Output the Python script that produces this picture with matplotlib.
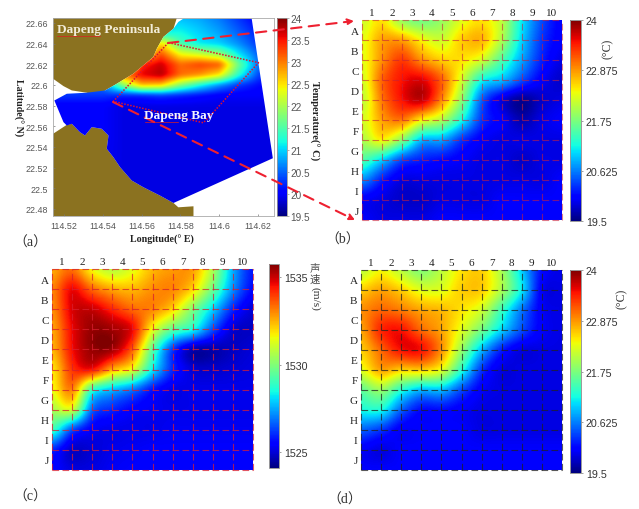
import numpy as np
import matplotlib
matplotlib.use('Agg')
import matplotlib.pyplot as plt
from matplotlib.patches import Polygon

W, H = 639, 510
LAND = '#8b7220'
SERIF = ['Liberation Serif', 'Noto Sans CJK SC']
SANS = 'Liberation Sans'

# panel a: temperature field over the bay
map_lon = [114.51, 114.54, 114.55, 114.56, 114.57, 114.58, 114.59, 114.60, 114.61, 114.62, 114.63]
map_lat = [22.47, 22.55, 22.58, 22.59, 22.60, 22.61, 22.62, 22.63, 22.64, 22.65, 22.665]
map_temp = [
    [20.0, 19.9, 19.9, 19.9, 19.9, 19.9, 19.9, 19.9, 19.9, 19.9, 19.9],
    [20.0, 20.0, 19.9, 19.9, 19.9, 19.9, 19.9, 19.9, 19.9, 19.9, 19.9],
    [20.0, 20.0, 19.9, 19.9, 19.9, 19.9, 19.9, 19.9, 19.9, 19.9, 19.9],
    [20.3, 20.3, 20.2, 20.2, 20.3, 20.2, 20.1, 20.0, 20.0, 20.0, 20.0],
    [20.3, 20.6, 21.8, 22.7, 22.6, 21.8, 21.2, 20.7, 20.3, 20.1, 20.0],
    [20.0, 20.2, 23.0, 23.6, 23.8, 23.1, 22.9, 22.5, 21.3, 20.4, 20.0],
    [20.0, 20.0, 21.0, 23.4, 23.7, 23.1, 23.3, 23.2, 21.7, 20.6, 20.0],
    [20.0, 20.0, 20.0, 22.4, 23.2, 22.4, 22.2, 21.9, 21.1, 20.5, 20.0],
    [20.0, 20.0, 20.0, 21.0, 22.6, 21.5, 21.1, 21.0, 20.7, 20.3, 20.0],
    [20.0, 20.0, 20.0, 20.0, 21.2, 21.2, 21.0, 20.8, 20.5, 20.2, 20.0],
    [20.0, 20.0, 20.0, 20.0, 20.8, 20.9, 20.8, 20.6, 20.3, 20.0, 20.0],
]

# coast outlines
north_land_lon = [114.5143, 114.5781, 114.5764, 114.5712, 114.5678, 114.5660, 114.5557, 114.5463, 114.5411, 114.5394, 114.5317, 114.5240, 114.5197, 114.5143]
north_land_lat = [22.6648, 22.6648, 22.6545, 22.6465, 22.6351, 22.6271, 22.6109, 22.6002, 22.5947, 22.5880, 22.5925, 22.5947, 22.5989, 22.6061]
south_land_lon = [114.5143, 114.5214, 114.5240, 114.5282, 114.5308, 114.5343, 114.5394, 114.5429, 114.5420, 114.5454, 114.5489, 114.5549, 114.5609, 114.5695, 114.5764, 114.5789, 114.5867, 114.5867, 114.5143]
south_land_lat = [22.5527, 22.5614, 22.5624, 22.5543, 22.5511, 22.5592, 22.5576, 22.5511, 22.5382, 22.5301, 22.5204, 22.5075, 22.5010, 22.4929, 22.4858, 22.4816, 22.4826, 22.4732, 22.4732]
sea_lon = [114.5789, 114.5815, 114.6167, 114.6276, 114.5764, 114.5695, 114.5609, 114.5549, 114.5489, 114.5454, 114.5420, 114.5429, 114.5394, 114.5343, 114.5308, 114.5282, 114.5240, 114.5214, 114.5197, 114.5150, 114.5214, 114.5317, 114.5411, 114.5463, 114.5557, 114.5660, 114.5678, 114.5712, 114.5764]
sea_lat = [22.6610, 22.6642, 22.6642, 22.5291, 22.4858, 22.4929, 22.5010, 22.5075, 22.5204, 22.5301, 22.5382, 22.5511, 22.5576, 22.5592, 22.5511, 22.5543, 22.5624, 22.5608, 22.5640, 22.5850, 22.5915, 22.5925, 22.5947, 22.6002, 22.6109, 22.6271, 22.6351, 22.6465, 22.6545]
study_lon = [114.5738, 114.6202, 114.5970, 114.5918, 114.5454]
study_lat = [22.6410, 22.6216, 22.5737, 22.5634, 22.5841]

col_labels = ['1', '2', '3', '4', '5', '6', '7', '8', '9', '10']
row_labels = ['A', 'B', 'C', 'D', 'E', 'F', 'G', 'H', 'I', 'J']

temp_b = [
    [22.2, 22.5, 21.9, 21.7, 21.9, 22.3, 22.5, 22.1, 21.1, 20.4, 20.0],
    [22.3, 22.8, 22.8, 22.4, 22.2, 22.6, 22.7, 22.0, 21.0, 20.3, 20.0],
    [22.3, 22.9, 23.3, 22.9, 22.6, 22.5, 22.2, 21.5, 20.8, 20.2, 19.9],
    [22.2, 23.1, 23.5, 23.6, 23.1, 22.2, 21.2, 20.9, 20.4, 20.0, 19.8],
    [22.1, 23.0, 23.5, 23.7, 22.9, 21.8, 20.5, 19.9, 19.6, 19.8, 19.9],
    [22.2, 22.8, 23.0, 22.4, 22.0, 21.2, 20.3, 20.0, 19.7, 19.9, 20.0],
    [22.0, 22.4, 21.8, 20.9, 20.8, 20.3, 20.0, 19.9, 19.9, 19.9, 19.9],
    [21.5, 21.0, 20.4, 20.2, 20.1, 20.0, 19.9, 19.9, 19.8, 19.9, 19.9],
    [20.7, 20.2, 19.9, 19.9, 19.9, 19.9, 19.9, 19.9, 19.9, 19.9, 20.0],
    [20.0, 19.9, 19.8, 19.8, 19.9, 19.9, 19.9, 20.0, 20.0, 20.0, 20.0],
    [20.0, 19.9, 19.9, 19.9, 20.0, 20.0, 20.0, 20.0, 20.0, 20.0, 20.0],
]
speed_c = [
    [1532.6, 1533.3, 1531.6, 1530.8, 1531.4, 1532.4, 1532.8, 1532.7, 1530.6, 1527.6, 1525.8],
    [1533.0, 1534.6, 1533.4, 1532.6, 1532.4, 1532.9, 1533.0, 1532.0, 1529.7, 1527.2, 1525.6],
    [1532.9, 1534.8, 1535.0, 1534.2, 1533.4, 1533.0, 1532.0, 1530.0, 1528.0, 1526.0, 1525.0],
    [1532.6, 1534.6, 1535.5, 1535.4, 1534.6, 1531.5, 1529.5, 1528.5, 1526.5, 1525.0, 1524.8],
    [1532.4, 1534.5, 1535.5, 1535.4, 1533.5, 1529.5, 1526.3, 1524.7, 1524.6, 1524.8, 1525.0],
    [1531.8, 1534.0, 1534.4, 1532.5, 1531.3, 1528.3, 1526.0, 1525.0, 1524.9, 1525.0, 1525.1],
    [1531.5, 1533.0, 1529.0, 1527.8, 1527.0, 1525.8, 1525.2, 1525.2, 1525.2, 1525.2, 1525.2],
    [1530.5, 1531.0, 1526.8, 1526.0, 1525.5, 1525.3, 1525.2, 1525.2, 1525.2, 1525.2, 1525.2],
    [1529.0, 1526.5, 1525.4, 1525.2, 1525.2, 1525.2, 1525.3, 1525.3, 1525.3, 1525.3, 1525.3],
    [1526.0, 1524.9, 1525.0, 1525.2, 1525.3, 1525.4, 1525.4, 1525.4, 1525.4, 1525.4, 1525.4],
    [1525.5, 1525.1, 1525.1, 1525.3, 1525.4, 1525.4, 1525.4, 1525.4, 1525.4, 1525.4, 1525.4],
]
temp_d = [
    [22.1, 22.4, 22.1, 21.8, 22.1, 22.5, 22.6, 22.0, 21.0, 20.1, 19.9],
    [22.6, 22.8, 22.6, 22.3, 22.3, 22.6, 22.6, 22.0, 21.1, 20.0, 19.9],
    [22.9, 23.1, 23.0, 22.8, 22.7, 22.5, 22.2, 21.4, 20.6, 20.0, 19.9],
    [22.8, 23.4, 23.5, 23.1, 22.8, 22.3, 21.7, 21.0, 20.4, 20.0, 19.9],
    [22.6, 23.1, 23.5, 23.5, 22.9, 21.9, 20.9, 20.2, 19.9, 19.9, 19.9],
    [22.3, 22.8, 22.6, 22.6, 22.3, 21.3, 20.3, 19.9, 19.9, 19.9, 19.9],
    [21.6, 21.9, 21.3, 20.9, 20.9, 20.4, 20.0, 19.9, 19.9, 19.9, 19.9],
    [21.2, 21.2, 20.5, 20.1, 20.1, 20.0, 19.9, 19.9, 19.9, 19.9, 19.9],
    [20.5, 20.3, 20.0, 20.0, 20.0, 20.0, 19.9, 19.9, 19.9, 19.9, 19.9],
    [20.0, 19.9, 20.0, 20.0, 20.0, 20.0, 20.0, 20.0, 20.0, 20.0, 20.0],
    [20.0, 20.0, 20.0, 20.0, 20.0, 20.0, 20.0, 20.0, 20.0, 20.0, 20.0],
]

temp_ticks = [19.5, 20.625, 21.75, 22.875, 24]
temp_tick_labels = ['19.5', '20.625', '21.75', '22.875', '24']
speed_ticks = [1525, 1530, 1535]
map_cbar_ticks = [19.5, 20, 20.5, 21, 21.5, 22, 22.5, 23, 23.5, 24]
lon_ticks = [114.52, 114.54, 114.56, 114.58, 114.6, 114.62]
lat_ticks = [22.48, 22.5, 22.52, 22.54, 22.56, 22.58, 22.6, 22.62, 22.64, 22.66]


def box(x0, y0, x1, y1):
    # pixel box, y measured from the top
    return [x0 / W, 1 - y1 / H, (x1 - x0) / W, (y1 - y0) / H]


def smooth_field(lon, lat, values, nx=460, ny=400, win=9):
    # table of readings onto a fine regular grid, softened for display
    gx = np.linspace(lon[0], lon[-1], nx)
    gy = np.linspace(lat[0], lat[-1], ny)
    vals = np.array(values)
    rows = np.array([np.interp(gx, lon, r) for r in vals])
    fine = np.array([np.interp(gy, lat, rows[:, i]) for i in range(nx)]).T
    k = np.ones(win) / win
    for _ in range(2):
        pad = np.pad(fine, win, mode='edge')
        pad = np.apply_along_axis(lambda v: np.convolve(v, k, mode='same'), 0, pad)
        pad = np.apply_along_axis(lambda v: np.convolve(v, k, mode='same'), 1, pad)
        fine = pad[win:-win, win:-win]
    return gx, gy, fine


def grid_panel(rect, cbar_rect, values, vmin, vmax, grid_color, alpha):
    ax = fig.add_axes(box(*rect))
    im = ax.imshow(values, cmap='jet', vmin=vmin, vmax=vmax, interpolation='catrom',
                   extent=(-0.5, 10.5, 10.5, -0.5), aspect='auto')
    ax.set_xlim(0, 10)
    ax.set_ylim(10, 0)
    ax.set_xticks(np.arange(10) + 0.5, col_labels, family='Liberation Serif', fontsize=8, color='#222222')
    ax.set_yticks(np.arange(10) + 0.5, row_labels, family='Liberation Serif', fontsize=8, color='#222222')
    ax.xaxis.tick_top()
    ax.tick_params(length=0, pad=2.5)
    for s in ax.spines.values():
        s.set_visible(False)
    for k in range(11):
        ax.axvline(k, color=grid_color, lw=0.8, ls=(0, (6, 3)), alpha=alpha, clip_on=False)
        ax.axhline(k, color=grid_color, lw=0.8, ls=(0, (6, 3)), alpha=alpha, clip_on=False)
    cax = fig.add_axes(box(*cbar_rect))
    cb = fig.colorbar(im, cax=cax)
    cb.outline.set_edgecolor('#999999')
    cb.outline.set_linewidth(0.7)
    cax.tick_params(length=1.5, width=0.5, color='#777777', labelsize=7.7, labelcolor='#333333', pad=2)
    return ax, cax, cb


fig = plt.figure(figsize=(W / 100, H / 100), dpi=100)

# panel a
ax = fig.add_axes(box(53, 19, 274, 217))
for lon, lat in [(north_land_lon, north_land_lat), (south_land_lon, south_land_lat)]:
    ax.add_patch(Polygon(np.column_stack([lon, lat]), closed=True, fc=LAND, ec='none', zorder=1))
gx, gy, field = smooth_field(map_lon, map_lat, map_temp)
mesh = ax.imshow(field, cmap='jet', vmin=19.5, vmax=24, origin='lower', aspect='auto',
                 extent=(gx[0], gx[-1], gy[0], gy[-1]), interpolation='bilinear', zorder=2)
sea = Polygon(np.column_stack([sea_lon, sea_lat]), closed=True, transform=ax.transData)
mesh.set_clip_path(sea)
ax.plot(study_lon + study_lon[:1], study_lat + study_lat[:1], color='#e01030', lw=1.1,
        ls=(0, (1, 1)), zorder=3)
ax.set_xlim(114.5143, 114.6282)
ax.set_ylim(22.4732, 22.6648)
ax.set_xticks(lon_ticks, ['114.52', '114.54', '114.56', '114.58', '114.6', '114.62'])
ax.set_yticks(lat_ticks, ['22.48', '22.5', '22.52', '22.54', '22.56', '22.58', '22.6', '22.62', '22.64', '22.66'])
ax.tick_params(length=1.5, width=0.5, direction='in', color='#777777', labelsize=6.4,
               labelcolor='#555555', pad=3.5)
for t in ax.get_xticklabels() + ax.get_yticklabels():
    t.set_family(SANS)
for s in ax.spines.values():
    s.set_edgecolor('#aaaaaa')
    s.set_linewidth(0.6)

cax = fig.add_axes(box(277, 19, 287, 217))
cb = fig.colorbar(mesh, cax=cax, ticks=map_cbar_ticks)
cb.ax.set_yticklabels(['19.5', '20', '20.5', '21', '21.5', '22', '22.5', '23', '23.5', '24'])
cb.outline.set_edgecolor('#999999')
cb.outline.set_linewidth(0.6)
cax.tick_params(length=1.2, width=0.4, color='#777777', labelsize=7.2, labelcolor='#555555', pad=1.5)
for t in cax.get_yticklabels():
    t.set_family(SANS)

# panels b, c, d
ax_b, cax_b, cb_b = grid_panel((362, 21, 562, 221), (570, 21, 581, 222), temp_b, 19.5, 24, '#c8203a', 0.6)
cb_b.set_ticks(temp_ticks, labels=temp_tick_labels)
ax_c, cax_c, cb_c = grid_panel((52, 270, 253, 471), (269, 265, 279, 469), speed_c, 1524.1, 1535.75, '#d81e30', 0.75)
cb_c.set_ticks(speed_ticks, labels=['1525', '1530', '1535'])
ax_d, cax_d, cb_d = grid_panel((361, 271, 562, 471), (570, 271, 581, 474), temp_d, 19.5, 24, '#222222', 0.75)
cb_d.set_ticks(temp_ticks, labels=temp_tick_labels)
for c in (cax_b, cax_c, cax_d):
    for t in c.get_yticklabels():
        t.set_family(SANS)

# overlay in pixel coordinates for arrows and free text
ov = fig.add_axes([0, 0, 1, 1], zorder=10)
ov.set_xlim(0, W)
ov.set_ylim(H, 0)
ov.axis('off')
ov.patch.set_alpha(0)

for start, end in [((168, 44), (354, 22)), ((113, 103), (355, 221))]:
    ov.annotate('', xy=end, xytext=start,
                arrowprops=dict(arrowstyle='-|>', color='#ee2030', lw=1.5, ls=(0, (5, 3.5)),
                                mutation_scale=9, shrinkA=0, shrinkB=0))

ov.text(57, 30, 'Dapeng Peninsula', family='Liberation Serif', weight='bold', fontsize=9.6,
        color='#f2ecd8', va='center', ha='left')
ov.text(144.5, 116, 'Dapeng Bay', family='Liberation Serif', weight='bold', fontsize=9.6,
        color='#f2f2ff', va='center', ha='left')
ov.plot([57, 100], [36.5, 36.5], color='#dd2020', lw=0.5)
ov.plot([145, 178], [122.5, 122.5], color='#dd2020', lw=0.5)

ov.text(162, 240, 'Longitude(° E)', family='Liberation Serif', weight='bold', fontsize=7.2,
        color='#222222', ha='center', va='center')
ov.text(18, 108, 'Latitude(° N)', family='Liberation Serif', weight='bold', fontsize=7.2,
        color='#222222', ha='center', va='center', rotation=270)
ov.text(314, 121, 'Temperature(° C)', family='Liberation Serif', weight='bold', fontsize=7.6,
        color='#222222', ha='center', va='center', rotation=270)
ov.text(608, 49, '(°C)', family='Liberation Serif', fontsize=8.5, color='#333333',
        ha='center', va='center', rotation=90)
ov.text(622, 299, '(°C)', family='Liberation Serif', fontsize=8.5, color='#333333',
        ha='center', va='center', rotation=90)
ov.text(315, 268, '声', family='Noto Sans CJK SC', fontsize=7.5, color='#555555', ha='center', va='center')
ov.text(315, 280, '速', family='Noto Sans CJK SC', fontsize=7.5, color='#444444', ha='center', va='center')
ov.text(315, 299, '(m/s)', family='Liberation Serif', fontsize=8.2, color='#333333', ha='center', va='center',
        rotation=270)

for label, x, y in [('（a）', 30, 243), ('（b）', 343, 240), ('（c）', 30, 497), ('（d）', 345, 500)]:
    ov.text(x, y, label, family=SERIF, fontsize=10, color='#333333', ha='center', va='center')

fig.savefig('out.png', dpi=100)
